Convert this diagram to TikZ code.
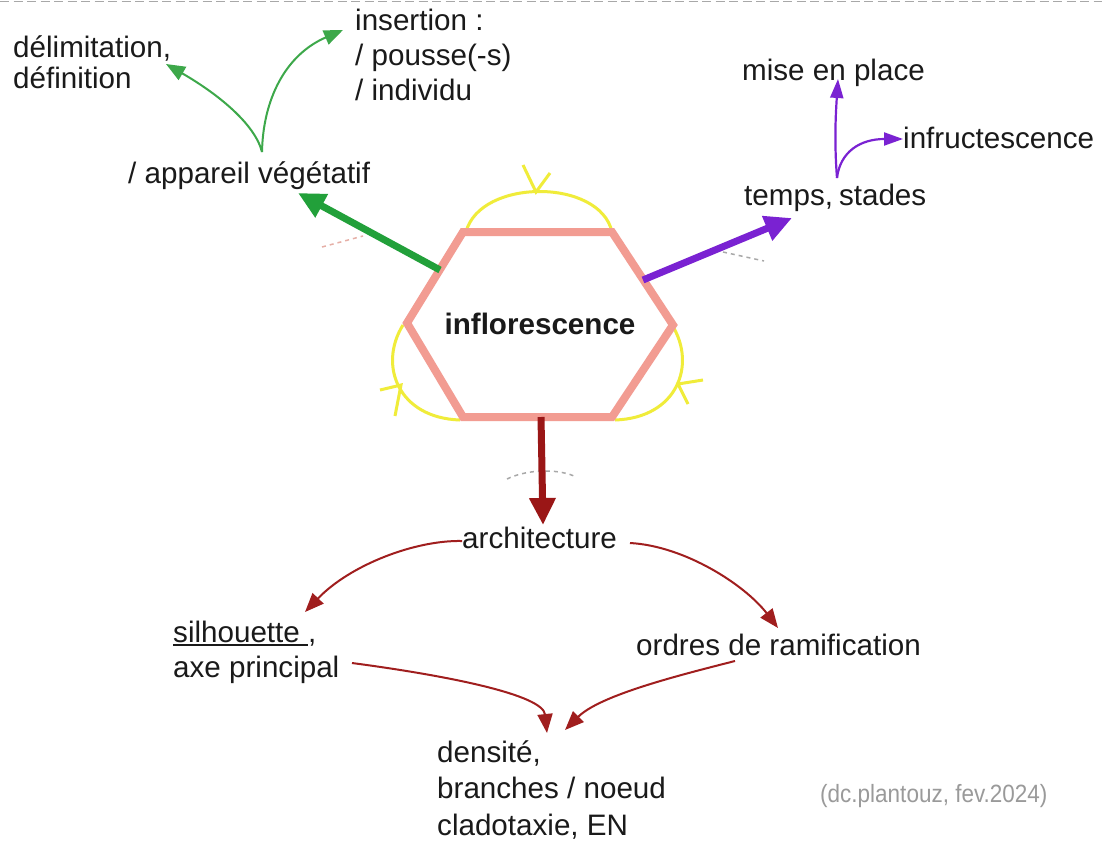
\documentclass[tikz,border=0pt]{standalone}
\usepackage{fontspec}
\setmainfont{Liberation Sans}
\usetikzlibrary{arrows.meta}

\definecolor{txt}{HTML}{1A1A1A}
\definecolor{hexcol}{HTML}{F29C92}
\definecolor{arcyel}{HTML}{F0EC3A}
\definecolor{gthick}{HTML}{22A03A}
\definecolor{gthin}{HTML}{3DA84A}
\definecolor{purp}{HTML}{7A22D2}
\definecolor{dred}{HTML}{9A1616}
\definecolor{rthin}{HTML}{A01E1E}
\definecolor{faint}{HTML}{A8A8A8}
\definecolor{faintpink}{HTML}{E6AFA6}
\definecolor{creditgray}{HTML}{9A9A9A}

% stacked lines with a fixed baseline pitch; baseline of the stack = first line
\newcommand\linestack[2]{\vtop{\baselineskip=#1\lineskiplimit=-100pt\lineskip=0pt\relax #2}}
% underlined word with a thin rule
\newcommand\ulinetext[1]{\setbox0\hbox{#1}\rlap{\rule[-3.5pt]{\wd0}{1.4pt}}\box0}

\begin{document}
\begin{tikzpicture}[x=1pt,y=-1pt,
  lbl/.style={inner sep=0pt, anchor=base west, text=txt, font=\fontsize{29.6}{34}\selectfont},
  hexa/.style={draw=hexcol, line width=8pt, line join=miter},
  cyc/.style={draw=arcyel, line width=3pt},
  bigarrow/.style={line width=7pt, -{Triangle[length=27pt,width=25pt]}},
  smallarrow/.style={line width=2pt, -{Triangle[length=19pt,width=15pt]}},
  psmall/.style={line width=2.2pt, -{Triangle[length=19pt,width=13pt]}},
  ghost/.style={line width=1.5pt, dash pattern=on 4pt off 4pt}
]
\useasboundingbox (0,0) rectangle (1102,843);
\fill[white] (0,0) rectangle (1102,843);

% top dashed rule
\draw[faint, line width=1.5pt, dash pattern=on 9pt off 4.5pt] (0,1.5) -- (1102,1.5);

% hexagon corners
\coordinate (hTL) at (463,232);
\coordinate (hTR) at (612,232);
\coordinate (hR)  at (673,325);
\coordinate (hBR) at (612,417);
\coordinate (hBL) at (463,417);
\coordinate (hL)  at (407,323);

% yellow cycle arcs with their ticks
\draw[cyc] (466,232) .. controls (480,178) and (600,178) .. (612,232);
\draw[cyc] (403,325) .. controls (378,365) and (398,418) .. (460,420);
\draw[cyc] (672,325) .. controls (697,365) and (677,418) .. (615,420);
\draw[cyc] (523,165) -- (536,192) -- (550,173);
\draw[cyc] (380,390) -- (401,385) -- (395,416);
\draw[cyc] (703,380) -- (678,384) -- (688,404);

% faint dashed marks
\draw[ghost, faintpink] (322,247) -- (363,236);
\draw[ghost, faint] (723,252) -- (764,261);
\draw[ghost, faint] (507,479) .. controls (525,470) and (555,468) .. (574,476);

% central hexagon
\draw[hexa] (hTL) -- (hTR) -- (hR) -- (hBR) -- (hBL) -- (hL) -- cycle;
\node[lbl, anchor=base, font=\fontsize{29.6}{34}\selectfont\bfseries] (inflo) at (540,334) {inflorescence};

% text nodes
\node[lbl] (delim) at (13,57) {\linestack{32pt}{\hbox{délimitation,}\hbox{définition}}};
\node[lbl] (insert) at (355,31) {\linestack{35pt}{\hbox{insertion :}\hbox{/ pousse(-s)}\hbox{/ individu}}};
\node[lbl] (appv) at (128,183) {/ appareil végétatif};
\node[lbl] (mise) at (742,80) {mise en place};
\node[lbl] (infr) at (903,148) {infructescence};
\node[lbl] (temps) at (744,205) {temps,\hspace{6pt}stades};
\node[lbl] (arch) at (462,548) {architecture};
\node[lbl] (silh) at (173,642) {\linestack{35pt}{\hbox{\ulinetext{silhouette\ },}\hbox{axe principal}}};
\node[lbl] (ordres) at (636,655) {ordres de ramification};
\node[lbl] (dens) at (437,762) {\linestack{36.5pt}{\hbox{densité,}\hbox{branches / noeud}\hbox{cladotaxie, EN}}};
\node[inner sep=0pt, anchor=base west, text=creditgray, font=\fontsize{25}{30}\selectfont] (credit) at (820,802) {\scalebox{0.9}[1]{(dc.plantouz, fev.2024)}};

% main branches out of the hexagon
\coordinate (gS) at (440,270);  \coordinate (gE) at (298,193);
\coordinate (pS) at (643,280);  \coordinate (pE) at (792,218);
\coordinate (rS) at (541,417);  \coordinate (rE) at (543,525);
\draw[bigarrow, gthick] (gS) -- (gE);
\draw[bigarrow, purp] (pS) -- (pE);
\draw[bigarrow, dred] (rS) -- (rE);

% vegetative branch
\coordinate (vg) at (262,152);
\coordinate (delT) at (166,64);
\coordinate (insT) at (343,30);
\draw[smallarrow, gthin] (vg) .. controls (255,124) and (218,94) .. (delT);
\draw[smallarrow, gthin] (vg) .. controls (263,100) and (285,55) .. (insT);

% time branch
\coordinate (ts) at (837,178);
\coordinate (miseT) at (838,79);
\coordinate (infrT) at (903,139);
\draw[psmall, purp] (ts) .. controls (834,140) and (836,110) .. (miseT);
\draw[psmall, purp] (ts) .. controls (840,152) and (860,139) .. (infrT);

% architecture branch
\coordinate (aL) at (462,541);   \coordinate (silT) at (305,612);
\coordinate (aR) at (630,543);   \coordinate (ordT) at (778,628);
\coordinate (axR) at (352,663);  \coordinate (densL) at (547,733);
\coordinate (ordB) at (735,661); \coordinate (densR) at (565,730);
\draw[smallarrow, rthin] (aL) .. controls (415,540) and (350,565) .. (silT);
\draw[smallarrow, rthin] (aR) .. controls (685,546) and (745,585) .. (ordT);
\draw[smallarrow, rthin] (axR) .. controls (450,676) and (543,695) .. (densL);
\draw[smallarrow, rthin] (ordB) .. controls (680,675) and (600,695) .. (densR);
\end{tikzpicture}
\end{document}
